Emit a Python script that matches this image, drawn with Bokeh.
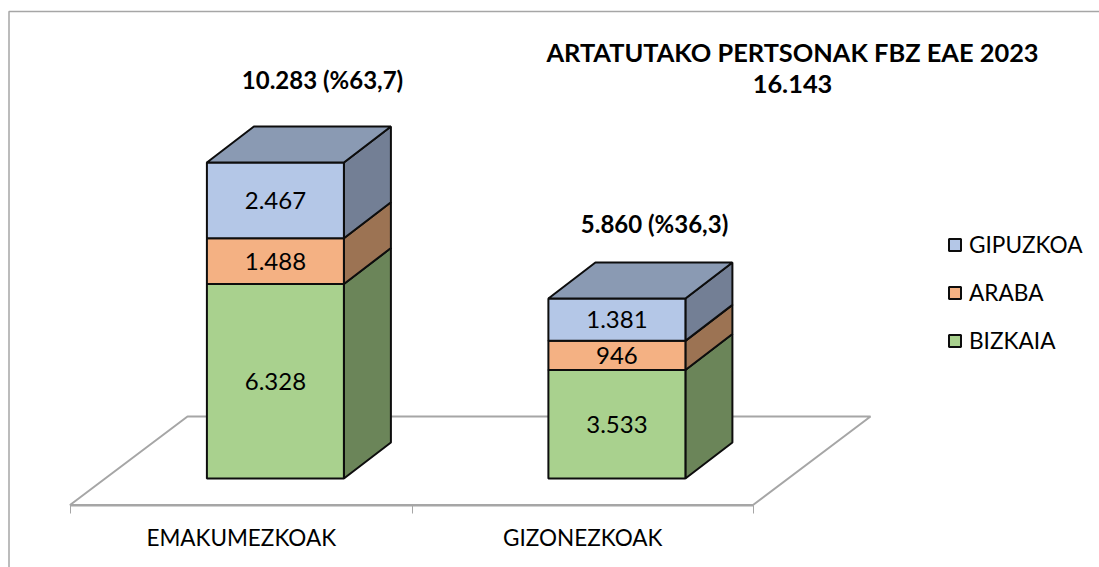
from bokeh.plotting import figure
from bokeh.embed import file_html
from bokeh.resources import INLINE
from bokeh.models import ColumnDataSource, LinearAxis, FixedTicker, Legend, LegendItem
from bokeh.core.properties import value

# ---- data ----
categories = ["EMAKUMEZKOAK", "GIZONEZKOAK"]
series_names = ["BIZKAIA", "ARABA", "GIPUZKOA"]
bizkaia = [6328, 3533]
araba = [1488, 946]
gipuzkoa = [2467, 1381]
bizkaia_labels = ["6.328", "3.533"]
araba_labels = ["1.488", "946"]
gipuzkoa_labels = ["2.467", "1.381"]
totals = ["10.283 (%63,7)", "5.860 (%36,3)"]
title_lines = ["ARTATUTAKO PERTSONAK FBZ EAE 2023", "16.143"]

# ---- layout (page pixels) ----
W, H = 1099, 567
PAGE = 0
PX_PER_CAT = 341.5
X0_PX = 70            # left end of axis
Y0_PX = 478           # bar base
PX_PER_VAL = 316 / 10283
FRONT_W = 137 / PX_PER_CAT
DX = 47 / PX_PER_CAT
DY = 36 / PX_PER_VAL
BAR_SHIFT = 0.1       # bars stand deeper on the floor than the tick centres
FONT = "Lato"


def sx(px):
    return (px - X0_PX) / PX_PER_CAT


def sy(py):
    return (Y0_PX - py) / PX_PER_VAL


p = figure(width=W, height=H, output_backend="svg", toolbar_location=None,
           x_range=(sx(PAGE), sx(PAGE + W)), y_range=(sy(PAGE + H), sy(PAGE)),
           min_border=0, min_border_left=0, min_border_right=0,
           min_border_top=0, min_border_bottom=0,
           x_axis_location=None, y_axis_location=None)
p.grid.visible = False
p.outline_line_color = None
p.background_fill_color = "white"
p.border_fill_color = "white"

# outer chart frame: left and top edges only are on the page
FRAME = "#A6A6A6"
p.line([sx(8.5), sx(8.5), sx(1099)], [sy(567), sy(11), sy(11)],
       line_color=FRAME, line_width=1.5)

# floor
fx = [sx(69.5), sx(752.5), sx(870), sx(187)]
fy = [sy(504.5), sy(504.5), sy(416), sy(416)]
p.patch(fx, fy, fill_color="white", line_color=FRAME, line_width=2)

tick_centers = [0.5, 1.5]
centers = [c + BAR_SHIFT for c in tick_centers]
faces = [
    ("BIZKAIA", bizkaia, "#A9D18E", "#6B8559", bizkaia_labels),
    ("ARABA", araba, "#F4B183", "#9C7353", araba_labels),
    ("GIPUZKOA", gipuzkoa, "#B4C7E7", "#737F95", gipuzkoa_labels),
]
TOP_COLOR = "#8A9AB3"

running = [0, 0]
renderers = {}
label_x, label_y, label_t = [], [], []
LINE = "#0D0D0D"
for name, vals, front, side, labels in faces:
    bottoms = list(running)
    tops = [b + v for b, v in zip(bottoms, vals)]
    side_xs = [[c + FRONT_W / 2, c + FRONT_W / 2 + DX, c + FRONT_W / 2 + DX, c + FRONT_W / 2] for c in centers]
    side_ys = [[b, b + DY, t + DY, t] for b, t in zip(bottoms, tops)]
    p.patches(side_xs, side_ys, fill_color=side, line_color=LINE, line_width=2)
    src = ColumnDataSource(dict(x=centers, bottom=bottoms, top=tops))
    renderers[name] = p.vbar(x="x", bottom="bottom", top="top", width=FRONT_W, source=src,
                             fill_color=front, line_color=LINE, line_width=2)
    for c, b, t, s in zip(centers, bottoms, tops, labels):
        label_x.append(c)
        label_y.append((b + t) / 2)
        label_t.append(s)
    running = tops

# top faces
top_xs = [[c - FRONT_W / 2, c - FRONT_W / 2 + DX, c + FRONT_W / 2 + DX, c + FRONT_W / 2] for c in centers]
top_ys = [[t, t + DY, t + DY, t] for t in running]
p.patches(top_xs, top_ys, fill_color=TOP_COLOR, line_color=LINE, line_width=2)

# value labels
p.text(label_x, label_y, text=label_t, text_align="center", text_baseline="middle",
       text_font=value(FONT), text_font_size="24px", text_color="#000000")

# totals above the bars
p.text([sx(322), sx(654)], [sy(79), sy(222.5)], text=totals, text_align="center",
       text_baseline="middle", text_font=value(FONT), text_font_style="bold",
       text_font_size="24px", text_color="#000000")

# chart title
p.text([sx(792), sx(792)], [sy(51), sy(83)], text=title_lines, text_align="center",
       text_baseline="middle", text_font=value(FONT), text_font_style="bold",
       text_font_size="25.4px", text_color="#000000")

# category axis
axis = LinearAxis(ticker=FixedTicker(ticks=tick_centers, minor_ticks=[0, 1, 2]),
                  fixed_location=sy(504.5), bounds=(0, 2))
axis.major_label_overrides = {c: n for c, n in zip(tick_centers, categories)}
axis.major_tick_out = 0
axis.major_tick_in = 0
axis.minor_tick_out = 8
axis.minor_tick_in = 0
axis.minor_tick_line_color = FRAME
axis.axis_line_color = FRAME
axis.axis_line_width = 2
axis.major_label_standoff = 11
axis.major_label_text_font = FONT
axis.major_label_text_font_size = "22.5px"
axis.major_label_text_color = "#000000"
p.add_layout(axis, "below")

# legend
legend = Legend(items=[LegendItem(label=n, renderers=[renderers[n]]) for n in reversed(series_names)],
                location=(947, 213), orientation="vertical", spacing=21,
                glyph_width=15, glyph_height=15, label_standoff=7,
                label_text_font=FONT, label_text_font_size="22.6px", label_text_color="#000000",
                label_height=26, border_line_color=None, background_fill_alpha=0,
                margin=0, padding=4)
p.add_layout(legend, "center")

open("out.html", "w").write(file_html(p, INLINE))
